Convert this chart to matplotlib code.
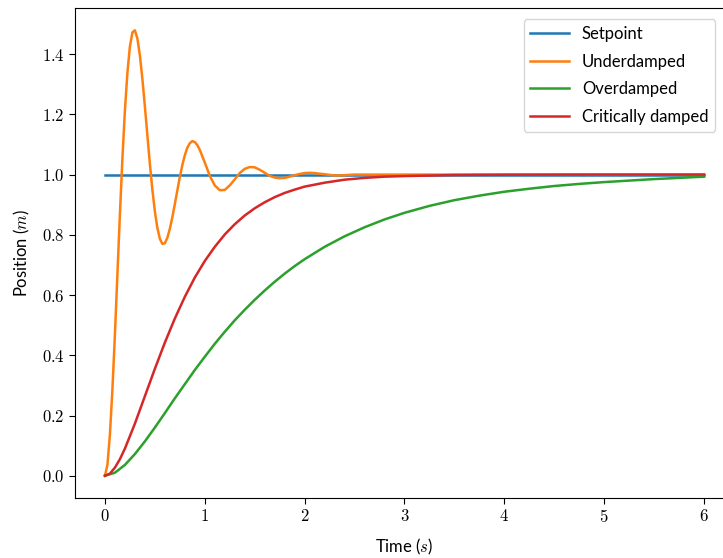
import matplotlib
matplotlib.use("Agg")
import matplotlib.pyplot as plt
from matplotlib.ticker import FuncFormatter

# values
t_set = [0.0, 6.0]
y_set = [1.0, 1.0]

t_under = [0.0, 0.025, 0.05, 0.075, 0.1, 0.125, 0.15, 0.175, 0.2, 0.225,
           0.25, 0.275, 0.3, 0.325, 0.35, 0.375, 0.4, 0.425, 0.45, 0.475,
           0.5, 0.525, 0.55, 0.575, 0.6, 0.625, 0.65, 0.675, 0.7, 0.725,
           0.75, 0.775, 0.8, 0.825, 0.85, 0.875, 0.9, 0.925, 0.95, 0.975,
           1.0, 1.05, 1.1, 1.15, 1.2, 1.25, 1.3, 1.35, 1.4, 1.45,
           1.5, 1.55, 1.6, 1.65, 1.7, 1.75, 1.8, 1.85, 1.9, 1.95,
           2.0, 2.05, 2.1, 2.15, 2.2, 2.25, 2.3, 2.35, 2.4, 2.5,
           3.0, 4.0, 5.0, 6.0]
y_under = [0.0, 0.036, 0.137, 0.287, 0.469, 0.669, 0.868, 1.053, 1.212, 1.338,
           1.425, 1.472, 1.479, 1.452, 1.396, 1.318, 1.227, 1.131, 1.036, 0.950,
           0.878, 0.823, 0.787, 0.770, 0.772, 0.790, 0.820, 0.858, 0.902, 0.947,
           0.992, 1.031, 1.064, 1.089, 1.104, 1.111, 1.108, 1.098, 1.082, 1.061,
           1.040, 0.996, 0.964, 0.948, 0.949, 0.964, 0.984, 1.005, 1.019, 1.025,
           1.024, 1.016, 1.006, 0.996, 0.990, 0.988, 0.989, 0.993, 0.998, 1.002,
           1.005, 1.006, 1.005, 1.003, 1.001, 0.999, 0.997, 0.997, 0.998, 1.000,
           1.000, 1.000, 1.000, 1.000]

t_over = [0.0, 0.1, 0.2, 0.3, 0.4, 0.5, 0.6, 0.7, 0.8, 0.9,
          1.0, 1.1, 1.2, 1.3, 1.4, 1.5, 1.6, 1.7, 1.8, 1.9,
          2.0, 2.2, 2.4, 2.6, 2.8, 3.0, 3.25, 3.5, 3.75, 4.0,
          4.25, 4.5, 4.75, 5.0, 5.25, 5.5, 5.75, 6.0]
y_over = [0.0, 0.010, 0.036, 0.072, 0.114, 0.160, 0.208, 0.257, 0.304, 0.351,
          0.395, 0.438, 0.478, 0.516, 0.551, 0.584, 0.615, 0.644, 0.671, 0.696,
          0.719, 0.760, 0.795, 0.825, 0.851, 0.873, 0.896, 0.915, 0.930, 0.943,
          0.953, 0.962, 0.969, 0.975, 0.980, 0.985, 0.989, 0.993]

t_crit = [0.0, 0.05, 0.1, 0.15, 0.2, 0.3, 0.4, 0.5, 0.6, 0.7, 0.8, 0.9,
          1.0, 1.1, 1.2, 1.3, 1.4, 1.5, 1.6, 1.7, 1.8, 1.9,
          2.0, 2.2, 2.4, 2.6, 2.8, 3.0, 3.5, 4.0, 5.0, 6.0]
y_crit = [0.0, 0.007, 0.027, 0.055, 0.090, 0.173, 0.264, 0.355, 0.442, 0.522,
          0.594, 0.658, 0.713, 0.760, 0.801, 0.835, 0.864, 0.888, 0.908, 0.925,
          0.939, 0.950, 0.960, 0.973, 0.983, 0.989, 0.993, 0.995, 0.9985,
          0.9995, 1.0, 1.0]

plt.rcParams['mathtext.fontset'] = 'cm'
plt.rcParams['font.family'] = ['Lato', 'DejaVu Sans']
plt.rcParams['lines.linewidth'] = 1.8

fig = plt.figure(figsize=(7.23, 5.58), dpi=100)
ax = fig.add_axes([0.1037, 0.1075, 0.9115, 0.8781])

ax.plot(t_set, y_set, label='Setpoint')
ax.plot(t_under, y_under, label='Underdamped')
ax.plot(t_over, y_over, label='Overdamped')
ax.plot(t_crit, y_crit, label='Critically damped')

ax.xaxis.set_major_formatter(FuncFormatter(lambda v, p: r'$%d$' % round(v)))
ax.yaxis.set_major_formatter(FuncFormatter(lambda v, p: r'$%.1f$' % v))
ax.set_yticks([0.0, 0.2, 0.4, 0.6, 0.8, 1.0, 1.2, 1.4])
ax.set_xticks([0, 1, 2, 3, 4, 5, 6])
ax.tick_params(labelsize=12, length=4)

ax.set_xlabel(r'Time ($s$)', fontsize=12, labelpad=8)
ax.set_ylabel(r'Position ($m$)', fontsize=12, labelpad=7)
ax.legend(loc='upper right', bbox_to_anchor=(0.984, 0.994), fontsize=12,
          handlelength=2.3, labelspacing=0.7, borderaxespad=0.5)

fig.savefig('out.png', dpi=100)
